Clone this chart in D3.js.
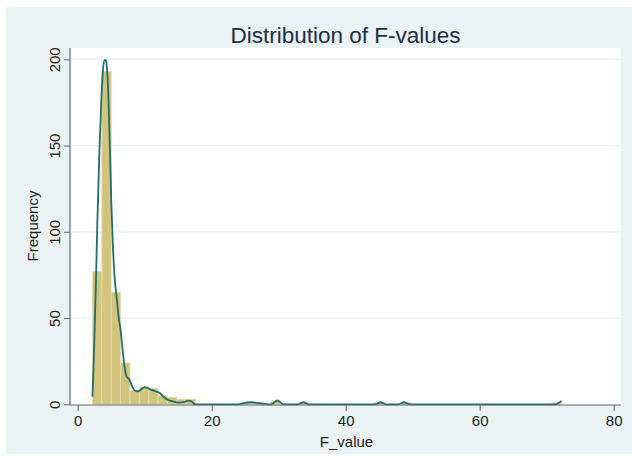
<!DOCTYPE html>
<html>
<head>
<meta charset="utf-8">
<script src="https://cdn.jsdelivr.net/npm/d3@7"></script>
<style>
  body { margin: 0; background: #fff; }
  svg text { font-family: "Liberation Sans", Arial, sans-serif; }
</style>
</head>
<body>
<div id="chart"></div>
<script>
// histogram bins (left edge, all bins 1.4 wide) and their counts
var binLeft = [2.2, 3.6, 5.0, 6.4, 7.8, 9.2, 10.6, 12.0, 13.4, 14.8, 16.2,
               24.6, 26.0, 28.8, 33.0, 44.2, 48.4, 70.8];
var counts  = [77, 193, 65, 24, 8, 10, 9, 5, 4, 3, 3,
               1, 1, 2, 1, 1, 1, 1];
var binWidth = 1.4;

// kernel density overlay (in frequency units)
var kdeX = [2.2, 2.33, 2.48, 2.69, 2.93, 3.22, 3.52, 3.78, 4.03, 4.22, 4.42, 4.63, 4.82,
            5.01, 5.22, 5.46, 5.81, 6.1, 6.4, 6.7, 7.06, 7.31, 7.7, 8.06, 8.5, 9.0, 9.5,
            10.0, 10.4, 10.9, 11.5, 12.3, 12.8, 13.5, 14.3, 15.0, 15.8, 16.5, 17.0, 17.5,
            18.5, 24.0, 24.7, 25.9, 27.2, 28.5, 28.9, 29.8, 30.7, 31.5, 32.9, 33.7, 34.5,
            44.4, 45.2, 46.0, 47.9, 48.7, 49.5, 71.4, 71.8, 72.2];
var kdeY = [4.4, 18, 37, 66, 105, 144, 176, 194, 199.6, 199, 192, 172, 147,
            118, 95, 76, 62, 51, 43, 31.5, 20, 16, 14.5, 11, 8, 7.5, 8.8,
            9.9, 9.5, 8.5, 7.7, 6.4, 4.4, 2.5, 1.6, 1, 1.2, 2.1, 1.6, 0,
            0, 0, 0.6, 1.2, 0.6, 0, 0, 2.2, 0, 0, 0, 1.2, 0,
            0, 1.2, 0, 0, 1.2, 0, 0, 0.8, 2.0];

var xTicks = [0, 20, 40, 60, 80];
var yTicks = [0, 50, 100, 150, 200];

var W = 632, H = 457;
var plotL = 70, plotR = 621, plotT = 48, plotB = 405;

var svg = d3.select("#chart").append("svg")
    .attr("width", W)
    .attr("height", H);

// outer graph region
svg.append("rect")
    .attr("x", 6).attr("y", 7)
    .attr("width", W - 6).attr("height", 447)
    .attr("fill", "#eaf2f3");

// plot region
svg.append("rect")
    .attr("x", plotL).attr("y", plotT)
    .attr("width", plotR - plotL).attr("height", plotB - plotT)
    .attr("fill", "#ffffff");

var x = d3.scaleLinear().domain([0, 80]).range([77.7, 613.7]);
var y = d3.scaleLinear().domain([0, 200]).range([404.3, 59.3]);

// gridlines
svg.append("g").selectAll("line")
    .data(yTicks.filter(function(d){ return d > 0; }))
    .enter().append("line")
      .attr("x1", plotL).attr("x2", plotR)
      .attr("y1", function(d){ return y(d); })
      .attr("y2", function(d){ return y(d); })
      .attr("stroke", "#eaf2f3")
      .attr("stroke-width", 1.2);

// bars
var bins = binLeft.map(function(d, i){ return {x0: d, x1: d + binWidth, n: counts[i]}; });
svg.append("g").selectAll("rect")
    .data(bins)
    .enter().append("rect")
      .attr("x", function(d){ return x(d.x0); })
      .attr("y", function(d){ return y(d.n); })
      .attr("width", function(d){ return x(d.x1) - x(d.x0); })
      .attr("height", function(d){ return y(0) - y(d.n); })
      .attr("fill", "#d2c47c")
      .attr("stroke", "#e6ddb0")
      .attr("stroke-width", 0.8);

// density line
var kde = kdeX.map(function(d, i){ return [d, kdeY[i]]; });
var line = d3.line()
    .x(function(d){ return x(d[0]); })
    .y(function(d){ return y(d[1]); })
    .curve(d3.curveMonotoneX);

svg.append("path")
    .datum(kde)
    .attr("d", line)
    .attr("fill", "none")
    .attr("stroke", "#1f6f6b")
    .attr("stroke-width", 1.8);

// x axis
var xAxis = svg.append("g")
    .attr("transform", "translate(0," + plotB + ")")
    .call(d3.axisBottom(x).tickValues(xTicks).tickSize(6).tickPadding(4));
xAxis.select(".domain").attr("d", "M" + plotL + ",0H" + plotR);

// y axis
var yAxis = svg.append("g")
    .attr("transform", "translate(" + plotL + ",0)")
    .call(d3.axisLeft(y).tickValues(yTicks).tickSize(6));
yAxis.select(".domain").attr("d", "M0," + plotT + "V" + plotB);
yAxis.selectAll(".tick text")
    .attr("x", null).attr("dy", null)
    .attr("transform", "translate(-10,0) rotate(-90)")
    .attr("text-anchor", "middle");

svg.selectAll(".domain").attr("stroke", "#666").attr("stroke-width", 1.2);
svg.selectAll(".tick line").attr("stroke", "#666");
svg.selectAll(".tick text")
    .attr("font-size", 15)
    .attr("fill", "#222")
    .style("font-family", "'Liberation Sans', Arial, sans-serif");

// titles
svg.append("text")
    .attr("x", (plotL + plotR) / 2).attr("y", 43)
    .attr("text-anchor", "middle")
    .attr("font-size", 22.5)
    .attr("fill", "#1c2e4a")
    .text("Distribution of F-values");

svg.append("text")
    .attr("x", (plotL + plotR) / 2 + 1).attr("y", 447)
    .attr("text-anchor", "middle")
    .attr("font-size", 15)
    .attr("fill", "#222")
    .text("F_value");

svg.append("text")
    .attr("transform", "translate(38," + 226 + ") rotate(-90)")
    .attr("text-anchor", "middle")
    .attr("font-size", 15)
    .attr("fill", "#222")
    .text("Frequency");
</script>
</body>
</html>
